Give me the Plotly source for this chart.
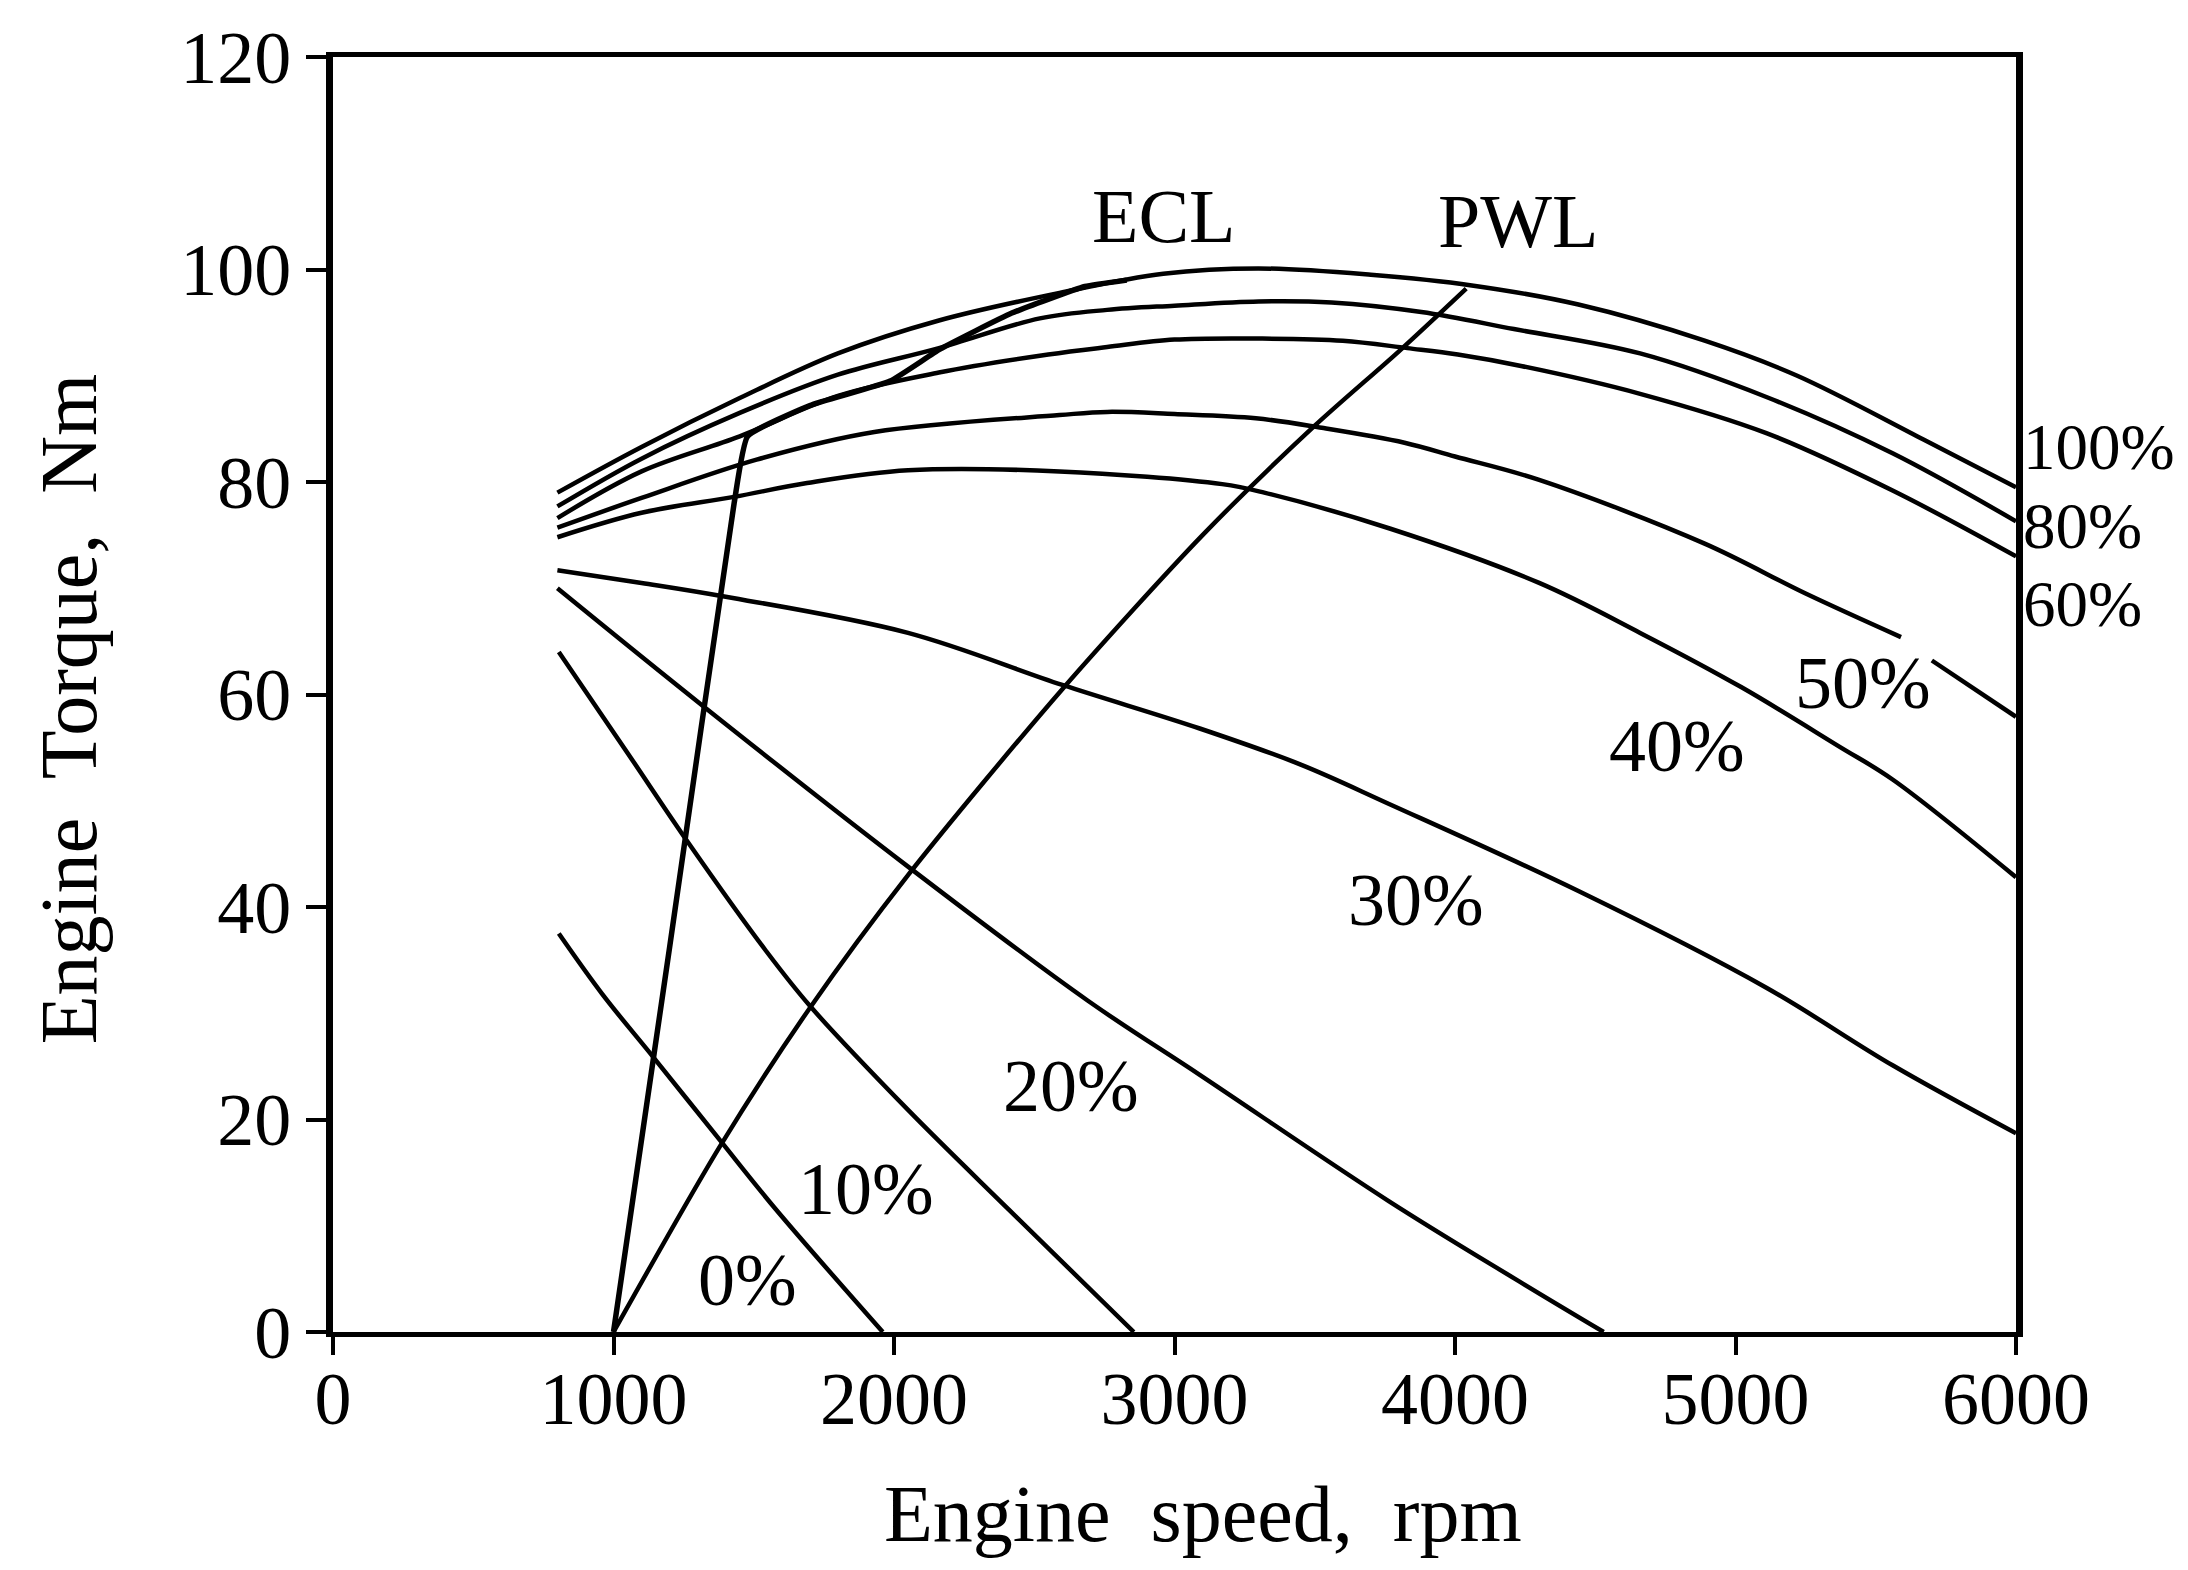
import plotly.graph_objects as go

# ---------------- data ----------------
rpm_100 = [800, 1100, 1450, 1800, 2160, 2590, 2960, 3300, 3700, 4060, 4440, 4890, 5220, 5670, 6000]
tq_100 = [79.0, 83.3, 87.9, 92.1, 95.2, 97.8, 99.6, 100.1, 99.5, 98.5, 96.7, 93.3, 90.0, 84.0, 79.5]

rpm_80 = [800, 1100, 1450, 1800, 2160, 2520, 2760, 3000, 3300, 3560, 3880, 4210, 4660, 5110, 5560, 6000]
tq_80 = [77.7, 82.2, 86.5, 90.1, 92.6, 95.4, 96.2, 96.6, 97.0, 96.9, 96.0, 94.4, 92.1, 88.0, 82.7, 76.3]

rpm_60 = [800, 1100, 1450, 1800, 2160, 2550, 2760, 3000, 3300, 3600, 3830, 4010, 4240, 4660, 5110, 5560, 6000]
tq_60 = [76.6, 81.0, 84.3, 88.1, 90.3, 92.0, 92.7, 93.4, 93.5, 93.3, 92.6, 92.0, 90.9, 88.3, 84.6, 79.2, 73.0]

rpm_50 = [800, 1100, 1510, 1930, 2590, 2760, 3000, 3290, 3525, 3820, 4000, 4300, 4890, 5250, 5590, None, 5700, 6000]
tq_50 = [75.7, 78.5, 82.1, 84.7, 86.3, 86.6, 86.4, 86.0, 85.1, 83.7, 82.4, 80.2, 74.2, 69.5, 65.4, None, 63.2, 57.9]

rpm_40 = [800, 1100, 1430, 1690, 2050, 2590, 3170, 3320, 3770, 4300, 4660, 5020, 5370, 5560, 6000]
tq_40 = [74.8, 77.1, 78.6, 79.9, 81.1, 81.0, 79.8, 79.0, 75.6, 70.5, 65.8, 60.7, 55.1, 52.0, 42.8]

rpm_30 = [800, 1100, 1400, 2050, 2600, 3090, 3450, 3765, 4440, 5110, 5560, 6000]
tq_30 = [71.7, 70.5, 69.2, 65.8, 60.9, 56.8, 53.4, 49.7, 41.5, 32.4, 25.1, 18.7]

rpm_20 = [800, 1320, 2050, 2690, 3090, 3765, 4214, 4530]
tq_20 = [70.0, 58.9, 43.8, 31.2, 24.2, 12.3, 5.0, 0.0]

rpm_10 = [805, 1050, 1268, 1540, 1700, 2050, 2414, 2855]
tq_10 = [64.0, 54.5, 46.0, 36.0, 30.7, 20.9, 11.4, 0.0]

rpm_0 = [805, 960, 1141, 1378, 1577, 1960]
tq_0 = [37.5, 31.8, 25.9, 18.1, 11.6, 0.0]

rpm_ecl = [1000, 1200, 1430, 1478, 1700, 1986, 2164, 2420, 2680, 2830]
tq_ecl = [0.0, 36.2, 78.0, 84.3, 87.2, 89.5, 92.5, 95.9, 98.4, 99.0]

rpm_pwl = [1000, 1380, 1700, 2050, 2600, 3100, 3500, 3800, 4040]
tq_pwl = [0.0, 17.5, 30.5, 43.0, 60.5, 75.0, 85.3, 92.3, 98.2]

curve_labels = ["0%", "10%", "20%", "30%", "40%", "50%"]
curve_label_rpm = [1476, 1900, 2632, 3862, 4790, 5455]
curve_label_tq = [4.9, 13.5, 23.2, 40.7, 55.2, 61.1]

edge_labels = ["100%", "80%", "60%"]
edge_label_tq = [83.3, 75.9, 68.5]

line_labels = ["ECL", "PWL"]
line_label_rpm = [2963, 4226]
line_label_tq = [105.0, 104.6]

x_ticks = [0, 1000, 2000, 3000, 4000, 5000, 6000]
y_ticks = [0, 20, 40, 60, 80, 100, 120]

FONT = "Liberation Serif, Times New Roman, serif"

fig = go.Figure()

curves = [(rpm_100, tq_100), (rpm_80, tq_80), (rpm_60, tq_60), (rpm_50, tq_50),
          (rpm_40, tq_40), (rpm_30, tq_30), (rpm_20, tq_20), (rpm_10, tq_10), (rpm_0, tq_0)]
for xs, ys in curves:
    fig.add_trace(go.Scatter(x=xs, y=ys, mode="lines", connectgaps=False,
                             line=dict(color="black", width=4.5, shape="spline", smoothing=1.0),
                             showlegend=False, hoverinfo="skip"))

fig.add_trace(go.Scatter(x=rpm_ecl, y=tq_ecl, mode="lines",
                         line=dict(color="black", width=5.5, shape="spline", smoothing=0.4),
                         showlegend=False, hoverinfo="skip"))
fig.add_trace(go.Scatter(x=rpm_pwl, y=tq_pwl, mode="lines",
                         line=dict(color="black", width=4.5, shape="spline", smoothing=0.8),
                         showlegend=False, hoverinfo="skip"))

annotations = []
for t, x, y in zip(curve_labels, curve_label_rpm, curve_label_tq):
    annotations.append(dict(x=x, y=y, xref="x", yref="y", text=t, showarrow=False,
                            font=dict(family=FONT, size=74, color="black"),
                            xanchor="center", yanchor="middle"))
for t, y in zip(edge_labels, edge_label_tq):
    annotations.append(dict(x=1.003, y=y / 120.0, xref="paper", yref="paper", text=t,
                            showarrow=False,
                            font=dict(family=FONT, size=65, color="black"),
                            xanchor="left", yanchor="middle"))
for t, x, y in zip(line_labels, line_label_rpm, line_label_tq):
    annotations.append(dict(x=x, y=y, xref="x", yref="y", text=t, showarrow=False,
                            font=dict(family=FONT, size=76, color="black"),
                            xanchor="center", yanchor="middle"))

# axis titles
annotations.append(dict(x=0.517, y=-0.143, xref="paper", yref="paper",
                        text="Engine  speed,  rpm", showarrow=False,
                        font=dict(family=FONT, size=80, color="black"),
                        xanchor="center", yanchor="middle"))
annotations.append(dict(x=-0.157, y=0.489, xref="paper", yref="paper",
                        text="Engine  Torque,  Nm", showarrow=False, textangle=-90,
                        font=dict(family=FONT, size=80, color="black"),
                        xanchor="center", yanchor="middle"))

fig.update_layout(
    width=2188, height=1570,
    margin=dict(l=333, r=172, t=57, b=238),
    paper_bgcolor="white", plot_bgcolor="white",
    annotations=annotations,
    showlegend=False,
)
fig.update_xaxes(range=[0, 6000], tickvals=x_ticks, ticktext=[str(v) for v in x_ticks],
                 ticks="outside", ticklen=18, tickwidth=4, tickcolor="black",
                 showline=True, linewidth=5, linecolor="black", mirror=True,
                 showgrid=False, zeroline=False, ticklabelstandoff=-20,
                 tickfont=dict(family=FONT, size=74, color="black"))
fig.update_yaxes(range=[0, 120], tickvals=y_ticks, ticktext=[str(v) for v in y_ticks],
                 ticks="outside", ticklen=20, tickwidth=4, tickcolor="black",
                 showline=True, linewidth=7, linecolor="black", mirror=True,
                 showgrid=False, zeroline=False, ticklabelstandoff=0,
                 tickfont=dict(family=FONT, size=74, color="black"))

fig.write_html("out.html")
